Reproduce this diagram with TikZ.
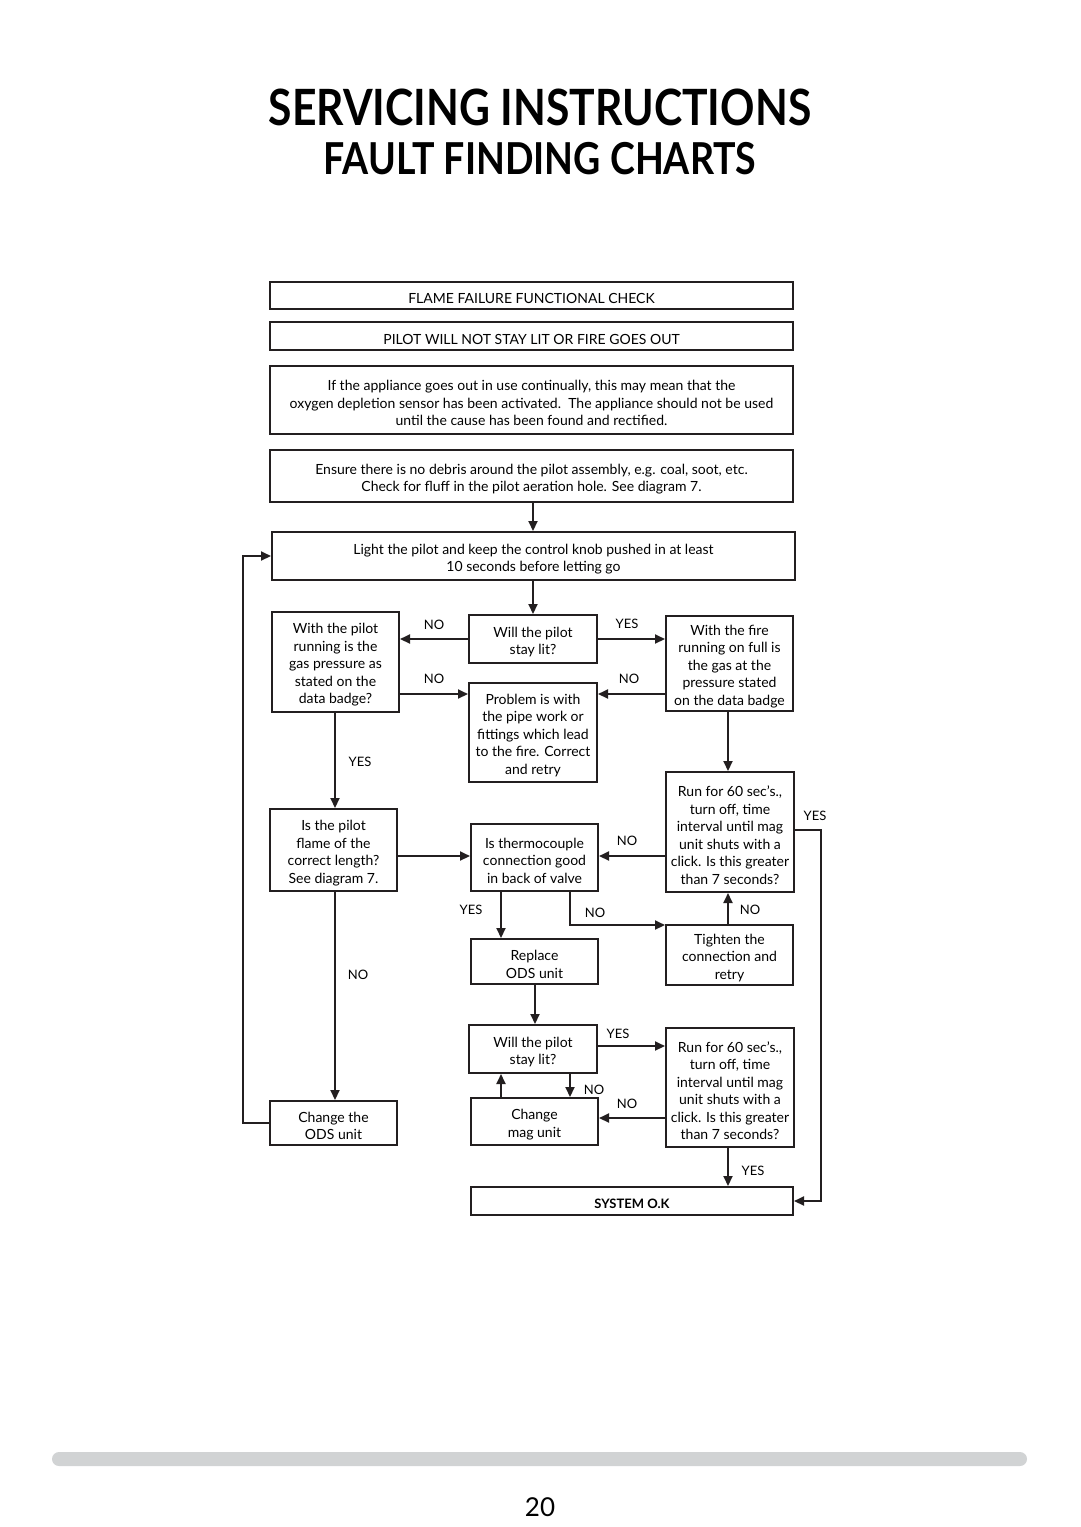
\documentclass[tikz,border=0pt]{standalone}
\usepackage{fontspec}
\setmainfont{Lato}
\usetikzlibrary{arrows.meta}
\definecolor{ln}{HTML}{231F20}
\definecolor{barc}{HTML}{D1D3D4}
\newcommand{\boxfont}{\fontsize{14}{17.5}\selectfont}
\newcommand{\labfont}{\fontsize{13}{15}\selectfont}
% \mybox{name}{x}{y}{w}{h}{text}
\newcommand{\mybox}[6]{%
  \node[box, minimum width=#4, minimum height=#5] (#1) at (#2,#3) {};
  \node[txt] (#1-t) at ([yshift=-3pt]#1.center) {#6};}
\begin{document}
\begin{tikzpicture}[x=1pt,y=-1pt,
  box/.style={draw=ln, line width=2pt, inner sep=0pt},
  txt/.style={inner sep=0pt, align=center, font=\boxfont, text=black},
  arr/.style={draw=ln, line width=2pt, -{Triangle[length=10pt,width=9pt]}},
  lab/.style={font=\labfont, text=black, inner sep=0pt}]
\useasboundingbox (0,0) rectangle (1080,1527);
% titles
\node[font=\fontsize{50}{56}\selectfont\bfseries, inner sep=0pt] (t1) at (540,107) {\scalebox{0.853}[1]{SERVICING INSTRUCTIONS}};
\node[font=\fontsize{44}{50}\selectfont\bfseries, inner sep=0pt] (t2) at (540,159) {\scalebox{0.853}[1]{FAULT FINDING CHARTS}};
% boxes
\mybox{b1}{531.5}{295.5}{523}{27}{FLAME FAILURE FUNCTIONAL CHECK}
\mybox{b2}{531.5}{336}{523}{28}{PILOT WILL NOT STAY LIT OR FIRE GOES OUT}
\mybox{b3}{531.5}{400}{523}{68}{If the appliance goes out in use continually, this may mean that the\\oxygen depletion sensor has been activated.\ \ The appliance should not be used\\until the cause has been found and rectified.}
\mybox{b4}{531.5}{476}{523}{52}{Ensure there is no debris around the pilot assembly, e.g. coal, soot, etc.\\Check for fluff in the pilot aeration hole. See diagram 7.}
\mybox{b5}{533.5}{556}{523}{48}{Light the pilot and keep the control knob pushed in at least\\10 seconds before letting go}
\mybox{w1}{533}{639}{128}{48}{Will the pilot\\stay lit?}
\mybox{p1}{335.5}{662}{127}{100}{With the pilot\\running is the\\gas pressure as\\stated on the\\data badge?}
\mybox{pr}{533}{732.5}{128}{99}{Problem is with\\the pipe work or\\fittings which lead\\to the fire. Correct\\and retry}
\mybox{f1}{729.5}{663.5}{127}{95}{With the fire\\running on full is\\the gas at the\\pressure stated\\on the data badge}
\mybox{r1}{730}{832}{128}{120}{Run for 60 sec's.,\\turn off, time\\interval until mag\\unit shuts with a\\click. Is this greater\\than 7 seconds?}
\mybox{pf}{333.5}{850}{127}{82}{Is the pilot\\flame of the\\correct length?\\See diagram 7.}
\mybox{tc}{534.5}{857.5}{127}{67}{Is thermocouple\\connection good\\in back of valve}
\mybox{tg}{729.5}{955}{127}{60}{Tighten the\\connection and\\retry}
\mybox{rp}{534.5}{961.5}{127}{45}{Replace\\ODS unit}
\mybox{w2}{533}{1049}{128}{48}{Will the pilot\\stay lit?}
\mybox{r2}{730}{1087.5}{128}{119}{Run for 60 sec's.,\\turn off, time\\interval until mag\\unit shuts with a\\click. Is this greater\\than 7 seconds?}
\mybox{mg}{534.5}{1121.5}{127}{47}{Change\\mag unit}
\mybox{sys}{632}{1201}{322}{28}{\fontsize{13}{15}\selectfont\bfseries SYSTEM O.K}
\mybox{ods}{333.5}{1123}{127}{44}{Change the\\ODS unit}
% connectors
\draw[arr] (b4.south -| 533,0) -- (b5.north -| 533,0);
\draw[arr] (b5.south -| 533,0) -- (w1.north);
\draw[arr] (w1.west) -- (p1.east |- w1.west);
\node[lab] (l1) at (434,625) {NO};
\draw[arr] (p1.east |- 0,694) -- (pr.west |- 0,694);
\node[lab] (l2) at (434,679) {NO};
\draw[arr] (w1.east) -- (f1.west |- w1.east);
\node[lab] (l3) at (627,624) {YES};
\draw[arr] (f1.west |- 0,694) -- (pr.east |- 0,694);
\node[lab] (l4) at (629,679) {NO};
\draw[arr] (f1.south -| 728,0) -- (r1.north -| 728,0);
\draw[arr] (p1.south -| 335,0) -- (pf.north -| 335,0);
\node[lab] (l5) at (360,762) {YES};
\draw[arr] (pf.east |- 0,856) -- (tc.west |- 0,856);
\draw[arr] (r1.west |- 0,856) -- (tc.east |- 0,856);
\node[lab] (l6) at (627,841) {NO};
\draw[arr] (tc.south -| 501,0) -- (rp.north -| 501,0);
\node[lab] (l7) at (471,910) {YES};
\draw[arr] (tc.south -| 570,0) |- (tg.west |- 0,925);
\node[lab] (l8) at (595,913) {NO};
\draw[arr] (tg.north -| 728,0) -- (r1.south -| 728,0);
\node[lab] (l9) at (750,910) {NO};
\draw[arr] (rp.south -| 535,0) -- (w2.north -| 535,0);
\draw[arr] (w2.east |- 0,1046) -- (r2.west |- 0,1046);
\node[lab] (l10) at (618,1034) {YES};
\draw[arr] (mg.north -| 501,0) -- (w2.south -| 501,0);
\draw[arr] (w2.south -| 570,0) -- (mg.north -| 570,0);
\node[lab] (l11) at (594,1090) {NO};
\draw[arr] (r2.west |- 0,1118) -- (mg.east |- 0,1118);
\node[lab] (l12) at (627,1104) {NO};
\draw[arr] (r2.south -| 728,0) -- (sys.north -| 728,0);
\node[lab] (l13) at (753,1171) {YES};
\draw[arr] (r1.east |- 0,830) -- (821,830) |- (sys.east);
\node[lab] (l14) at (815,816) {YES};
\draw[arr] (pf.south -| 335,0) -- (ods.north -| 335,0);
\node[lab] (l15) at (358,975) {NO};
\draw[arr] (ods.west) -- (243,1123) |- (b5.west);
% footer
\fill[barc, rounded corners=7pt] (52,1452) rectangle (1027,1466);
\node[font=\fontsize{26}{30}\selectfont, inner sep=0pt] (pg) at (540,1507) {20};
\end{tikzpicture}
\end{document}
